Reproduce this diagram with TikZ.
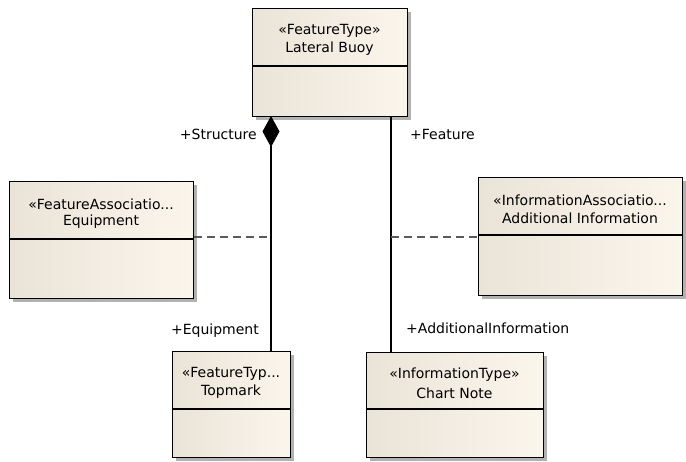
\documentclass[tikz,border=0pt]{standalone}
\usepackage{fontspec}
\setmainfont{DejaVu Sans}
\usetikzlibrary{arrows.meta,calc}
\definecolor{boxleft}{HTML}{EAE3D8}
\definecolor{boxright}{HTML}{FBF6EC}
\definecolor{dashgray}{HTML}{5A5A5A}
\tikzset{
  umlbox/.style={draw=black, line width=1.2pt, left color=boxleft, right color=boxright,
    minimum width=#1, inner sep=0pt, anchor=north west},
  shadowbox/.style={fill=black!30, draw=none},
  txt/.style={font=\fontsize{14}{16}\selectfont, inner sep=0pt},
  conn/.style={line width=1.2pt, black},
  dep/.style={line width=1.2pt, dashgray, dash pattern=on 8pt off 5pt},
}
% a class box: name, left, top, right, bottom, divider, stereotype, title
\newcommand{\umlclass}[8]{%
  \fill[shadowbox] (#2+4,#3+4) rectangle (#4+4,#5+4);
  \node[umlbox={(#4-#2)*1pt}, minimum height={(#5-#3)*1pt}] (#1) at (#2,#3) {};
  \draw[line width=1.1pt] (#2,#6) -- (#4,#6);
  \node[txt] (#1-st) at ({(#2+#4)/2},#3+23) {#7};
  \node[txt] (#1-nm) at ({(#2+#4)/2},#3+41) {#8};
}
\begin{document}
\begin{tikzpicture}[x=1pt,y=-1pt]
\useasboundingbox[fill=white] (0,0) rectangle (686,462);

\umlclass{lb}{252}{8}{407}{116}{66}{«FeatureType»}{Lateral Buoy}
\umlclass{eq}{9}{181}{193}{298}{239}{«FeatureAssociatio...}{Equipment}
\umlclass{ai}{478}{177}{682}{295}{235}{«InformationAssociatio...}{Additional Information}
\umlclass{tm}{172}{351}{290}{457}{409}{«FeatureTyp...}{Topmark}
\umlclass{cn}{366}{352}{543}{457}{409}{«InformationType»}{Chart Note}

% association ends
\coordinate (sL) at (271,116);
\coordinate (sR) at (391,116);
\coordinate (mL) at (271,237);
\coordinate (mR) at (391,237);

% composition: Lateral Buoy -> Topmark
\draw[conn, {Diamond[length=31pt,width=17pt]}-] (sL) -- (sL |- tm.north);
% association: Lateral Buoy -> Chart Note
\draw[conn] (sR) -- (sR |- cn.north);

% association classes
\draw[dep] (eq.east |- mL) -- (mL);
\draw[dep] (mR) -- (ai.west |- mR);

% role names
\node[txt, anchor=east] (r1) at (257,134) {+Structure};
\node[txt, anchor=west] (r2) at (410,134) {+Feature};
\node[txt, anchor=east] (r3) at (259,331) {+Equipment};
\node[txt, anchor=west] (r4) at (406,328) {+AdditionalInformation};
\end{tikzpicture}
\end{document}
